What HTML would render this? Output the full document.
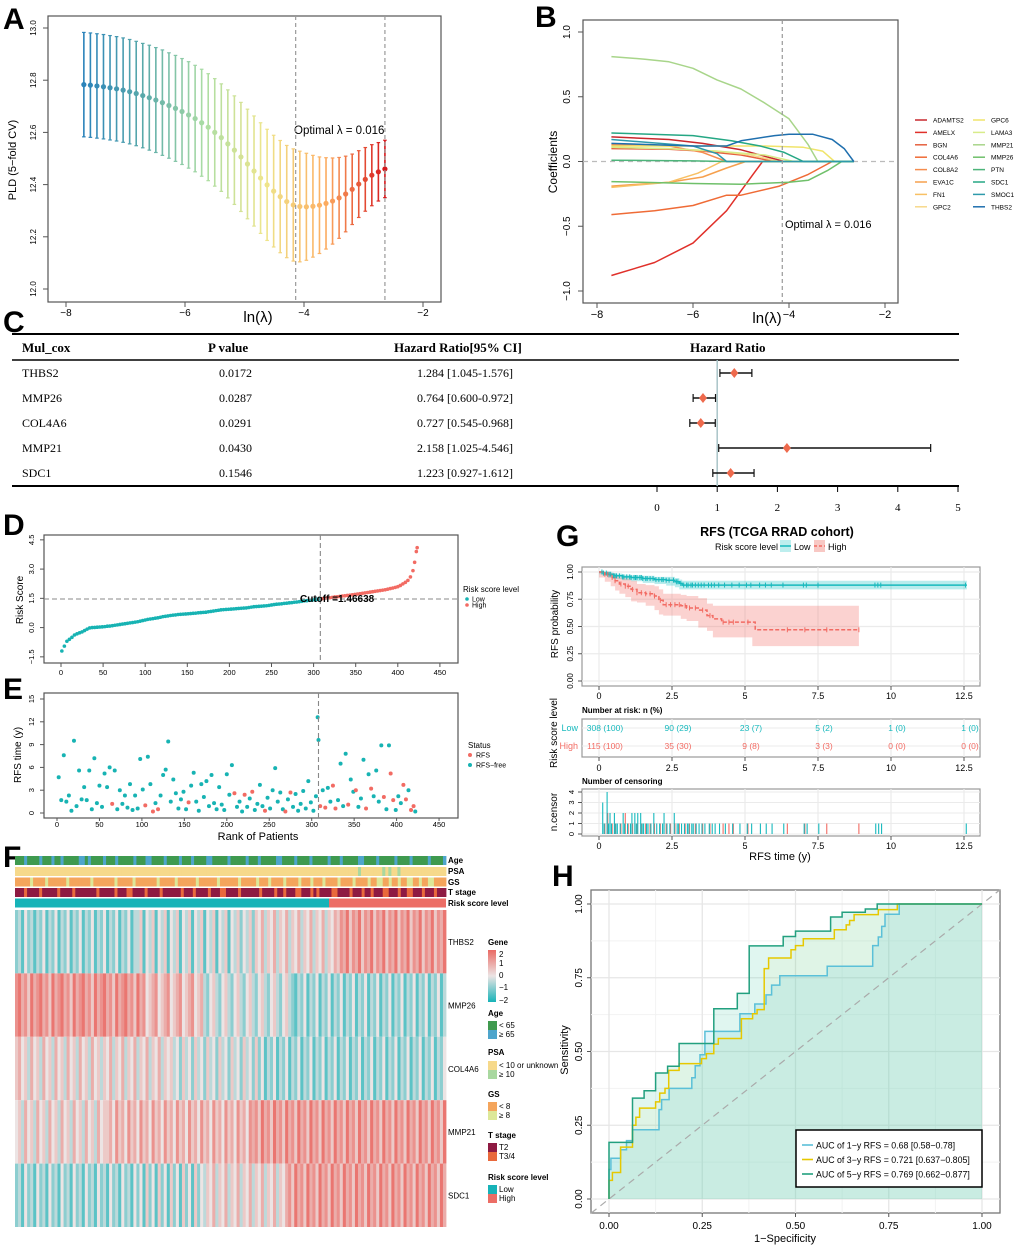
<!DOCTYPE html>
<html><head><meta charset="utf-8"><style>
html,body{margin:0;padding:0;background:#fff;}
svg{display:block;font-family:"Liberation Sans",Arial,sans-serif;}
.ser{font-family:"Liberation Serif","Times New Roman",serif;}
</style></head><body>
<svg id="fig" xmlns="http://www.w3.org/2000/svg" width="1020" height="1249" viewBox="0 0 1020 1249">
<rect x="0" y="0" width="1020" height="1249" fill="#fff"/>
<g font-weight="bold" font-size="30" fill="#000">
<text x="3" y="29">A</text>
<text x="535" y="27">B</text>
<text x="3" y="332">C</text>
<text x="3" y="535">D</text>
<text x="3" y="699">E</text>
<text x="3" y="867">F</text>
<text x="556" y="546">G</text>
<text x="552" y="886">H</text>
</g>
<rect x="48" y="16" width="393" height="286" fill="none" stroke="#555" stroke-width="1.2"/>
<text x="16" y="160" font-size="11" text-anchor="middle" transform="rotate(-90 16 160)">PLD (5−fold CV)</text>
<text x="258" y="322" font-size="15" text-anchor="middle">ln(λ)</text>
<text x="294" y="134" font-size="11.5">Optimal λ = 0.016</text>
<rect x="583" y="20" width="315" height="283" fill="none" stroke="#555" stroke-width="1.2"/>
<text x="557" y="162" font-size="12" text-anchor="middle" transform="rotate(-90 557 162)">Coefficients</text>
<text x="767" y="323" font-size="15" text-anchor="middle">ln(λ)</text>
<text x="785" y="228" font-size="11">Optimal λ = 0.016</text>
<g class="ser">
<line x1="12" y1="334" x2="959" y2="334" stroke="#000" stroke-width="2"/>
<line x1="12" y1="360" x2="959" y2="360" stroke="#000" stroke-width="1.5"/>
<line x1="12" y1="486" x2="959" y2="486" stroke="#000" stroke-width="2"/>
<g font-weight="bold" font-size="13">
<text x="22" y="352">Mul_cox</text>
<text x="208" y="352">P  value</text>
<text x="394" y="352">Hazard Ratio[95% CI]</text>
<text x="690" y="352">Hazard Ratio</text>
</g>
</g>
<rect x="44" y="535" width="414" height="128" fill="none" stroke="#555" stroke-width="1.2"/>
<text x="23" y="600" font-size="10" text-anchor="middle" transform="rotate(-90 23 600)">Risk Score</text>
<text x="463" y="592" font-size="8">Risk score level</text>
<circle cx="467" cy="599" r="1.8" fill="#17b3b3"/><text x="472" y="601.5" font-size="7">Low</text>
<circle cx="467" cy="605" r="1.8" fill="#f26b63"/><text x="472" y="607.5" font-size="7">High</text>
<rect x="44" y="693" width="414" height="125" fill="none" stroke="#555" stroke-width="1.2"/>
<text x="21" y="755" font-size="10" text-anchor="middle" transform="rotate(-90 21 755)">RFS time (y)</text>
<text x="258" y="840" font-size="11" text-anchor="middle">Rank of Patients</text>
<text x="468" y="748" font-size="8">Status</text>
<circle cx="470" cy="755" r="2" fill="#f26b63"/><text x="476" y="757.5" font-size="7">RFS</text>
<circle cx="470" cy="765" r="2" fill="#17b3b3"/><text x="476" y="767.5" font-size="7">RFS−free</text>
<g font-size="8" font-weight="bold">
<text x="448" y="863">Age</text><text x="448" y="874">PSA</text><text x="448" y="885">GS</text><text x="448" y="895">T stage</text><text x="448" y="906">Risk score level</text>
</g>
<g font-size="8">
<text x="488" y="945" font-weight="bold">Gene</text>
<text x="488" y="1016" font-weight="bold">Age</text>
<rect x="488" y="1021" width="9" height="9" fill="#3f9a4f"/><text x="499" y="1028">&lt; 65</text>
<rect x="488" y="1030" width="9" height="9" fill="#4ea5cc"/><text x="499" y="1037">≥ 65</text>
<text x="488" y="1055" font-weight="bold">PSA</text>
<rect x="488" y="1061" width="9" height="9" fill="#f6d98b"/><text x="499" y="1068">&lt; 10 or unknown</text>
<rect x="488" y="1070" width="9" height="9" fill="#a9d8a0"/><text x="499" y="1077">≥ 10</text>
<text x="488" y="1097" font-weight="bold">GS</text>
<rect x="488" y="1102" width="9" height="9" fill="#f4a55c"/><text x="499" y="1109">&lt; 8</text>
<rect x="488" y="1111" width="9" height="9" fill="#dde899"/><text x="499" y="1118">≥ 8</text>
<text x="488" y="1138" font-weight="bold">T stage</text>
<rect x="488" y="1143" width="9" height="9" fill="#8e1a42"/><text x="499" y="1150">T2</text>
<rect x="488" y="1152" width="9" height="9" fill="#e9693c"/><text x="499" y="1159">T3/4</text>
<text x="488" y="1180" font-weight="bold">Risk score level</text>
<rect x="488" y="1185" width="9" height="9" fill="#17b3b8"/><text x="499" y="1192">Low</text>
<rect x="488" y="1194" width="9" height="9" fill="#ec6d65"/><text x="499" y="1201">High</text>
</g>
<defs><linearGradient id="geneGrad" x1="0" y1="0" x2="0" y2="1">
<stop offset="0" stop-color="#ea6a64"/><stop offset="0.5" stop-color="#ece4e4"/><stop offset="1" stop-color="#17b3b8"/></linearGradient></defs>
<rect x="488" y="950" width="8" height="52" fill="url(#geneGrad)"/>
<g font-size="8">
<text x="499" y="957">2</text><text x="499" y="966">1</text><text x="499" y="978">0</text><text x="499" y="990">−1</text><text x="499" y="1003">−2</text>
</g>
<text x="777" y="536" font-size="12.5" font-weight="bold" text-anchor="middle">RFS (TCGA RRAD cohort)</text>
<text x="778" y="550" font-size="9" text-anchor="end">Risk score level</text>
<rect x="780" y="540" width="11" height="12" fill="#bdeeee"/><line x1="780" y1="546" x2="791" y2="546" stroke="#17b9bd" stroke-width="1.5"/>
<text x="794" y="550" font-size="9">Low</text>
<rect x="814" y="540" width="11" height="12" fill="#f8c8c4"/><line x1="814" y1="546" x2="825" y2="546" stroke="#f26b63" stroke-width="1.5" stroke-dasharray="3,2"/>
<text x="828" y="550" font-size="9">High</text>
<text x="558" y="624" font-size="10" text-anchor="middle" transform="rotate(-90 558 624)">RFS probability</text>
<text x="607" y="662" font-size="11">p &lt; 0.001</text>
<text x="582" y="713" font-size="8" font-weight="bold">Number at risk: n (%)</text>
<text x="557" y="733" font-size="10" text-anchor="middle" transform="rotate(-90 557 733)">Risk score level</text>
<text x="578" y="731" font-size="9" fill="#17b9bd" text-anchor="end">Low</text>
<text x="578" y="749" font-size="9" fill="#f26b63" text-anchor="end">High</text>
<text x="582" y="784" font-size="8" font-weight="bold">Number of censoring</text>
<text x="557" y="812" font-size="10" text-anchor="middle" transform="rotate(-90 557 812)">n.censor</text>
<text x="780" y="860" font-size="11" text-anchor="middle">RFS time (y)</text>
<text x="568" y="1050" font-size="11" text-anchor="middle" transform="rotate(-90 568 1050)">Sensitivity</text>
<text x="785" y="1242" font-size="11" text-anchor="middle">1−Specificity</text>
<g id="dyn"></g>
</svg>
<script>
const NS="http://www.w3.org/2000/svg";
const root=document.getElementById('dyn');
function mk(tag,attrs,parent){const e=document.createElementNS(NS,tag);for(const k in attrs)e.setAttribute(k,attrs[k]);(parent||root).appendChild(e);return e;}

/* ---------- Panel A data ---------- */
const aLnLambda=[-7.70,-7.59,-7.48,-7.37,-7.26,-7.15,-7.04,-6.93,-6.82,-6.71,-6.60,-6.49,-6.38,-6.27,-6.16,-6.05,-5.94,-5.83,-5.72,-5.61,-5.50,-5.39,-5.28,-5.17,-5.06,-4.95,-4.84,-4.73,-4.62,-4.51,-4.40,-4.29,-4.18,-4.07,-3.96,-3.85,-3.74,-3.63,-3.52,-3.41,-3.30,-3.19,-3.08,-2.97,-2.86,-2.75,-2.64];
const aMean=[12.783,12.781,12.778,12.775,12.771,12.767,12.762,12.756,12.749,12.741,12.733,12.724,12.714,12.703,12.692,12.680,12.667,12.653,12.637,12.620,12.600,12.580,12.556,12.532,12.506,12.479,12.452,12.425,12.399,12.375,12.354,12.335,12.322,12.316,12.315,12.317,12.321,12.328,12.337,12.349,12.364,12.382,12.402,12.420,12.436,12.449,12.460];
const aSE=[0.200,0.200,0.200,0.200,0.200,0.200,0.200,0.200,0.200,0.200,0.201,0.201,0.202,0.202,0.203,0.203,0.204,0.204,0.205,0.205,0.206,0.206,0.207,0.208,0.209,0.210,0.211,0.212,0.213,0.214,0.215,0.215,0.215,0.212,0.205,0.195,0.185,0.175,0.165,0.155,0.145,0.135,0.128,0.122,0.117,0.112,0.110];
const aXTicks=[-8,-6,-4,-2];
const aYTicks=[12.0,12.2,12.4,12.6,12.8,13.0];
const aOptimalLn=-4.14, aOneSeLn=-2.64;
function ax(v){return 66+(v+8)*59.5;}
function ay(v){return 289-(v-12)*261;}
const spectral=[[43,131,186],[90,170,170],[171,221,164],[238,230,140],[253,174,97],[215,25,28]];
function specColor(t){const n=spectral.length-1;const i=Math.min(n-1,Math.floor(t*n));const f=t*n-i;const a=spectral[i],b=spectral[i+1];return 'rgb('+a.map((c,k)=>Math.round(c+(b[k]-c)*f)).join(',')+')';}
{
const g=mk('g',{});


aLnLambda.forEach((l,i)=>{
 const col=specColor(i/(aLnLambda.length-1));
 const x=ax(l);
 const ln=mk('line',{x1:x,x2:x,y1:ay(aMean[i]-aSE[i]),y2:ay(aMean[i]+aSE[i]),stroke:col,'stroke-width':1.6},g);
 
 
 mk('line',{x1:x-1.8,x2:x+1.8,y1:ay(aMean[i]+aSE[i]),y2:ay(aMean[i]+aSE[i]),stroke:col,'stroke-width':1.2},g);
 mk('line',{x1:x-1.8,x2:x+1.8,y1:ay(aMean[i]-aSE[i]),y2:ay(aMean[i]-aSE[i]),stroke:col,'stroke-width':1.2},g);
 const c=mk('circle',{cx:x,cy:ay(aMean[i]),r:2.6,fill:col},g);
 
 
});
[aOptimalLn,aOneSeLn].forEach(v=>{
 const d=mk('line',{x1:ax(v),x2:ax(v),y1:16,y2:302,stroke:'#999','stroke-width':1.2,'stroke-dasharray':'4,3'});
 
 
});
aXTicks.forEach(v=>{
 mk('line',{x1:ax(v),x2:ax(v),y1:302,y2:307,stroke:'#555'});
 const t=mk('text',{x:ax(v),y:316,'font-size':10,'text-anchor':'middle'});
 t.textContent=String(v).replace('-','−');
 
 
});
aYTicks.forEach(v=>{
 mk('line',{x1:43,x2:48,y1:ay(v),y2:ay(v),stroke:'#555'});
 const t=mk('text',{x:36,y:ay(v),'font-size':8,'text-anchor':'middle',transform:'rotate(-90 36 '+ay(v)+')'});
 t.textContent=v.toFixed(1);
 
 
});
}

/* ---------- Panel B data ---------- */
const bGenes=['ADAMTS2','AMELX','BGN','COL4A6','COL8A2','EVA1C','FN1','GPC2','GPC6','LAMA3','MMP21','MMP26','PTN','SDC1','SMOC1','THBS2'];
const bColors=['#c8282d','#e0302a','#e5603f','#ef6b36','#f58d4e','#f6a04d','#f8c064','#f7d98a','#f0e46a','#d8ec8a','#a8d58a','#6fc06a','#4db47a','#25a784','#2e9aab','#1f6fae'];
const bLn={
ADAMTS2:[-7.7,-6.5,-5.8,-5.0,-4.4,-4.1,-2.65],AMELX:[-7.7,-6.8,-6.0,-5.3,-4.75,-4.55,-2.65],BGN:[-7.7,-6.5,-5.8,-5.0,-4.3,-2.65],
COL4A6:[-7.7,-6.8,-6.0,-5.3,-5.0,-4.2,-3.6,-3.1,-2.65],COL8A2:[-7.7,-6.5,-5.8,-5.3,-2.65],EVA1C:[-7.7,-6.5,-5.8,-5.3,-4.9,-2.65],
FN1:[-7.7,-6.5,-5.9,-5.4,-2.65],GPC2:[-7.7,-6.5,-5.5,-4.8,-4.2,-2.65],GPC6:[-7.7,-6.0,-4.5,-3.7,-3.3,-3.05,-2.65],
LAMA3:[-7.7,-6.5,-5.5,-4.5,-3.9,-2.65],MMP21:[-7.7,-7.0,-6.5,-6.0,-5.5,-5.0,-4.5,-4.0,-3.6,-3.4,-2.65],
MMP26:[-7.7,-6.0,-5.0,-4.0,-3.6,-3.2,-2.9,-2.65],PTN:[-7.7,-6.0,-5.3,-2.65],SDC1:[-7.7,-6.0,-5.2,-4.6,-4.1,-3.7,-2.65],
SMOC1:[-7.7,-6.0,-5.5,-5.3,-2.65],THBS2:[-7.7,-6.0,-5.3,-5.0,-4.3,-4.0,-3.5,-3.1,-2.85,-2.65]};
const bCoef={
ADAMTS2:[0.19,0.17,0.14,0.09,0.03,0,0],AMELX:[-0.88,-0.78,-0.63,-0.38,-0.10,0,0],BGN:[0.10,0.095,0.08,0.05,0,0],
COL4A6:[-0.41,-0.38,-0.34,-0.26,-0.26,-0.19,-0.10,0,0],COL8A2:[0.13,0.12,0.07,0,0],EVA1C:[-0.19,-0.16,-0.12,-0.05,0,0],
FN1:[-0.20,-0.16,-0.09,0,0],GPC2:[0.11,0.10,0.08,0.05,0,0],GPC6:[0.12,0.12,0.12,0.11,0.08,0,0],
LAMA3:[0.11,0.10,0.08,0.05,0,0],MMP21:[0.81,0.79,0.77,0.72,0.63,0.56,0.45,0.33,0.13,0,0],
MMP26:[-0.155,-0.17,-0.175,-0.16,-0.145,-0.07,0,0],PTN:[0.01,0.005,0,0],SDC1:[0.22,0.20,0.16,0.12,0.07,0,0],
SMOC1:[0.17,0.12,0.06,0,0],THBS2:[0.14,0.12,0.12,0.16,0.20,0.21,0.21,0.17,0.10,0]};
const bXTicks=[-8,-6,-4,-2];
const bYTicks=[-1.0,-0.5,0.0,0.5,1.0];
function bx(v){return 597+(v+8)*48;}
function by(v){return 161.5-v*129.5;}
{
const z=mk('line',{x1:583,x2:898,y1:by(0),y2:by(0),stroke:'#bbb','stroke-width':1.2,'stroke-dasharray':'5,4'});


bGenes.forEach((gname,i)=>{
 const pts=bLn[gname].map((l,k)=>bx(l).toFixed(1)+','+by(bCoef[gname][k]).toFixed(1)).join(' ');
 const p=mk('polyline',{points:pts,fill:'none',stroke:bColors[i],'stroke-width':1.5,'stroke-linejoin':'round'});
 
 
 const col=i<8?0:1,row=i%8;
 const lx=915+col*58, ly=120+row*12.4;
 mk('line',{x1:lx,x2:lx+12,y1:ly,y2:ly,stroke:bColors[i],'stroke-width':1.5});
 const t=mk('text',{x:lx+18,y:ly+2.5,'font-size':6.5});
 t.textContent=gname;
 
 
});
const v=mk('line',{x1:bx(aOptimalLn),x2:bx(aOptimalLn),y1:20,y2:303,stroke:'#999','stroke-width':1.2,'stroke-dasharray':'4,3'});


bXTicks.forEach(val=>{
 mk('line',{x1:bx(val),x2:bx(val),y1:303,y2:308,stroke:'#555'});
 const t=mk('text',{x:bx(val),y:318,'font-size':11,'text-anchor':'middle'});
 t.textContent=String(val).replace('-','−');
 
 
});
bYTicks.forEach(val=>{
 mk('line',{x1:578,x2:583,y1:by(val),y2:by(val),stroke:'#555'});
 const t=mk('text',{x:570,y:by(val),'font-size':10,'text-anchor':'middle',transform:'rotate(-90 570 '+by(val)+')'});
 t.textContent=val.toFixed(1).replace('-','−');
 
 
});
}

/* ---------- Panel C data ---------- */
const cGenes=['THBS2','MMP26','COL4A6','MMP21','SDC1'];
const cPvals=['0.0172','0.0287','0.0291','0.0430','0.1546'];
const cHR=[1.284,0.764,0.727,2.158,1.223];
const cLow=[1.045,0.600,0.545,1.025,0.927];
const cHigh=[1.576,0.972,0.968,4.546,1.612];
const cTicks=[0,1,2,3,4,5];
function cx(v){return 657+v*60.2;}
{
const rowY=[373,398,423,448,473];
const ref=mk('line',{x1:cx(1),x2:cx(1),y1:360,y2:486,stroke:'#a9c4c8','stroke-width':1.5});


cGenes.forEach((gname,i)=>{
 const y=rowY[i];
 const t1=mk('text',{x:22,y:y+4,'font-size':12,class:'ser'});t1.textContent=gname;
 
 
 const t2=mk('text',{x:252,y:y+4,'font-size':12,class:'ser','text-anchor':'end'});t2.textContent=cPvals[i];
 
 
 const t3=mk('text',{x:513,y:y+4,'font-size':12,class:'ser','text-anchor':'end'});
 t3.textContent=cHR[i].toFixed(3)+' ['+cLow[i].toFixed(3)+'-'+cHigh[i].toFixed(3)+']';
 
 
 const ci=mk('line',{x1:cx(cLow[i]),x2:cx(cHigh[i]),y1:y,y2:y,stroke:'#111','stroke-width':1.5});
 
 
 mk('line',{x1:cx(cLow[i]),x2:cx(cLow[i]),y1:y-4,y2:y+4,stroke:'#111','stroke-width':1.2});
 mk('line',{x1:cx(cHigh[i]),x2:cx(cHigh[i]),y1:y-4,y2:y+4,stroke:'#111','stroke-width':1.2});
 const px=cx(cHR[i]);
 const d=mk('polygon',{points:(px-4)+','+y+' '+px+','+(y-5)+' '+(px+4)+','+y+' '+px+','+(y+5),fill:'#ee6a4d'});
 
 
});
cTicks.forEach(v=>{
 mk('line',{x1:cx(v),x2:cx(v),y1:486,y2:492,stroke:'#000'});
 const t=mk('text',{x:cx(v),y:511,'font-size':11,'text-anchor':'middle',class:'ser'});t.textContent=v;
 
 
});
}

/* ---------- Panel D data ---------- */
const dRank=[1,4,7,10,13,16,19,22,25,28,31,34,37,40,43,46,49,52,55,58,61,64,67,70,73,76,79,82,85,88,91,94,97,100,103,106,109,112,115,118,121,124,127,130,133,136,139,142,145,148,151,154,157,160,163,166,169,172,175,178,181,184,187,190,193,196,199,202,205,208,211,214,217,220,223,226,229,232,235,238,241,244,247,250,253,256,259,262,265,268,271,274,277,280,283,286,289,292,295,298,301,304,307,310,313,316,319,322,325,328,331,334,337,340,343,346,349,352,355,358,361,364,367,370,373,376,379,382,385,388,391,394,397,400,403,406,409,412,415,418,420,422,423];
const dRisk=[-1.20,-0.95,-0.70,-0.60,-0.50,-0.38,-0.32,-0.27,-0.22,-0.15,-0.08,-0.02,0.00,0.01,0.02,0.03,0.04,0.05,0.07,0.08,0.10,0.12,0.14,0.16,0.18,0.20,0.22,0.24,0.26,0.28,0.30,0.33,0.36,0.39,0.42,0.44,0.46,0.48,0.50,0.53,0.56,0.58,0.60,0.62,0.64,0.65,0.67,0.68,0.69,0.70,0.71,0.72,0.73,0.74,0.76,0.77,0.78,0.79,0.81,0.83,0.85,0.87,0.89,0.91,0.92,0.93,0.94,0.95,0.96,0.97,0.98,0.99,1.00,1.01,1.03,1.05,1.07,1.08,1.09,1.10,1.11,1.12,1.14,1.16,1.18,1.20,1.21,1.22,1.24,1.25,1.27,1.28,1.30,1.31,1.33,1.35,1.37,1.38,1.40,1.41,1.43,1.45,1.46,1.48,1.50,1.52,1.53,1.55,1.57,1.58,1.60,1.62,1.63,1.65,1.66,1.68,1.70,1.72,1.74,1.76,1.78,1.80,1.82,1.84,1.86,1.88,1.90,1.92,1.94,1.97,2.00,2.03,2.06,2.10,2.16,2.24,2.32,2.42,2.60,2.92,3.35,3.90,4.10];
const dCutoff=1.46638, dCutRank=308;
const dXTicks=[0,50,100,150,200,250,300,350,400,450];
const dYTicks=[-1.5,0.0,1.5,3.0,4.5];
function dx(r){return 61+r*0.842;}
function dy(v){return 599-(v-dCutoff)*19.5;}
{
dRank.forEach((r,i)=>{
 const c=mk('circle',{cx:dx(r),cy:dy(dRisk[i]),r:1.8,fill:r<=dCutRank?'#17b3b3':'#f26b63'});
 
 
});
const h=mk('line',{x1:44,x2:458,y1:dy(dCutoff),y2:dy(dCutoff),stroke:'#888','stroke-width':1.1,'stroke-dasharray':'5,3'});


const v=mk('line',{x1:dx(dCutRank),x2:dx(dCutRank),y1:535,y2:663,stroke:'#888','stroke-width':1.1,'stroke-dasharray':'5,3'});


const ct=mk('text',{x:300,y:dy(dCutoff)+3,'font-size':10,'font-weight':'bold'});ct.textContent='Cutoff =1.46638';


dXTicks.forEach(v=>{
 mk('line',{x1:dx(v),x2:dx(v),y1:663,y2:667,stroke:'#555'});
 const t=mk('text',{x:dx(v),y:675,'font-size':7.5,'text-anchor':'middle'});t.textContent=v;
 
 
});
dYTicks.forEach(v=>{
 mk('line',{x1:40,x2:44,y1:dy(v),y2:dy(v),stroke:'#555'});
 const t=mk('text',{x:34,y:dy(v),'font-size':7.5,'text-anchor':'middle',transform:'rotate(-90 34 '+dy(v)+')'});t.textContent=v.toFixed(1).replace('-','−');
 
 
});
}

/* ---------- Panel E data ---------- */
const eRank=[2,5,8,11,14,17,20,23,26,29,32,35,38,41,44,47,50,53,56,59,62,65,68,71,74,77,80,83,86,89,92,95,98,101,104,107,110,113,116,119,122,125,128,131,134,137,140,143,146,149,152,155,158,161,164,167,170,173,176,179,182,185,188,191,194,197,200,203,206,209,212,215,218,221,224,227,230,233,236,239,242,245,248,251,254,257,260,263,266,269,272,275,278,281,284,287,290,293,296,299,302,305,307,308,310,313,316,319,322,325,328,331,334,337,340,343,346,349,352,355,358,361,364,367,370,373,376,379,382,385,388,391,393,396,399,402,405,408,411,414,417,420,422];
const eTime=[4.7,1.7,7.6,1.5,2.3,0.3,9.5,0.9,5.6,1.8,3.4,1.7,5.6,0.5,7.2,1.3,3.6,0.8,5.2,3.4,6.0,1.2,5.6,0.5,3.0,1.2,2.3,0.7,3.8,0.4,2.3,0.6,7.1,3.1,1.0,7.4,3.8,0.2,1.3,0.5,2.3,5.0,5.7,9.4,1.5,4.4,2.6,0.6,1.8,2.8,0.5,1.4,3.6,5.3,1.5,0.3,3.8,2.1,4.2,0.9,5.0,1.3,0.5,3.4,1.1,0.4,5.1,2.4,6.3,2.6,0.8,1.5,0.2,2.4,0.8,1.9,2.8,0.4,1.2,3.7,0.9,0.3,2.0,0.6,3.0,5.9,1.5,2.7,0.5,0.2,1.8,2.7,0.8,2.5,0.3,1.2,2.9,0.6,4.2,1.4,0.3,2.2,12.6,9.6,0.9,3.0,0.7,3.3,1.5,3.6,0.6,1.7,6.5,0.9,7.8,1.1,4.4,2.8,3.0,0.8,1.9,7.0,0.6,5.1,3.2,2.2,5.6,1.5,8.9,2.1,0.5,8.9,5.2,1.7,0.4,2.2,1.3,3.7,1.8,3.0,0.4,0.9,0.2];
const eStatus=[0,0,0,0,0,0,0,0,0,0,0,0,0,0,0,0,0,0,0,0,0,1,0,0,0,0,0,0,0,0,0,0,0,0,1,0,0,1,0,1,0,0,0,0,0,0,0,0,0,0,0,1,0,0,0,0,0,0,0,0,0,0,0,0,0,0,0,0,0,1,0,0,0,1,0,0,1,0,0,0,0,1,0,0,0,0,0,0,0,1,0,1,0,0,0,0,0,0,0,0,0,0,0,0,1,0,1,0,0,1,1,0,0,0,0,1,0,0,1,0,0,0,1,0,1,0,0,0,0,1,0,0,1,1,0,0,0,1,1,0,1,1,0];
const eXTicks=[0,50,100,150,200,250,300,350,400,450];
const eYTicks=[0,3,6,9,12,15];
function ex(r){return 57+r*0.849;}
function ey(t){return 813-t*7.6;}
{
eRank.forEach((r,i)=>{
 const c=mk('circle',{cx:ex(r),cy:ey(eTime[i]),r:2,fill:eStatus[i]?'#f26b63':'#17b3b3'});
 
 
});
const v=mk('line',{x1:ex(dCutRank),x2:ex(dCutRank),y1:693,y2:818,stroke:'#888','stroke-width':1.1,'stroke-dasharray':'5,3'});


eXTicks.forEach(v=>{
 mk('line',{x1:ex(v),x2:ex(v),y1:818,y2:821,stroke:'#555'});
 const t=mk('text',{x:ex(v),y:827,'font-size':7.5,'text-anchor':'middle'});t.textContent=v;
 
 
});
eYTicks.forEach(v=>{
 mk('line',{x1:40,x2:44,y1:ey(v),y2:ey(v),stroke:'#555'});
 const t=mk('text',{x:34,y:ey(v),'font-size':7.5,'text-anchor':'middle',transform:'rotate(-90 34 '+ey(v)+')'});t.textContent=v;
 
 
});
}

/* ---------- Panel F data ---------- */
const fGenes=['THBS2','MMP26','COL4A6','MMP21','SDC1'];
const fExpr=[
"2314231324132413241324132413241324132413351435143514351435143514351435143524352546354635463546354635463546576857685768576857685768576857685768",
"7867586786758678675867867586786758678675867456745674567456745632453245324532453245324532453213241324132413241324132413241324132413241324132413",
"5645364536453645364536453645354635463546354635463545342534253425342534253425342524132413241324132413241324132413241324132413241324132413241324",
"4536453645364536453645364536455647564756475647564756475647564756475647564756476758675867586758675867586758675867586758675867586758675867586758",
"2314231423142314231423142314231423142314241524152415241524152435463546354635463546354635467586758675867586758675867586758675867586758675867586"];
const fAge="aaabaaaabaaabaabaaaaabbabaaaabaaabaaaaabaaabbaaaabaaaabaaabaaaabbaaaaabaaaaabaaabaaaaabbaaaabaaaabaaaaabaaabaaaaabbaaaabaaaaabaaaabaaaaabaaaab";
const fPSA="yyyyyyyyyyyyyyyyyyyyyyyyyyyyyyyyyyyyyyyyyyyyyyyyyyyyyyyyyyyyyyyyyyyyyyyyyyyyyyyyyyyyyyyyyyyyyyyyyyyyyyyyyyyyyyyyygyyyyyyygygyygyyyyyyyyyyyyyyy";
const fGS="oooooloooolooooooloooooooloooooooloooooloooooooloooooloooooolooooooloooooolooooolooolooooloooolooolooolooooloooolooooloolloolooloollooloolloooo";
const fT="dddrddddrdddddrddddrdddddddrdddddrdddrrddddrddddrddddddrdddrddddrdddrrddddrddddddrddddrddrdddrrdddrdrddddrrddddrdddrddrdddrrdddrddrrdddrdddrddd";
const fRiskLow=102, fRiskCols=140;
const annoColors={a:'#3f9a4f',b:'#4ea5cc',y:'#f6d98b',g:'#a9d8a0',o:'#f4a55c',l:'#dde899',d:'#8e1a42',r:'#e9693c'};
function exprColor(v){const t=(v-4)/4*0.9;const mid=[236,228,228],hi=[234,106,100],lo=[23,179,184];const e=t>=0?hi:lo;const f=Math.abs(t);return 'rgb('+mid.map((c,k)=>Math.round(c+(e[k]-c)*f)).join(',')+')';}
{
const X0=15,W=431;
const annos=[[fAge,856],[fPSA,867],[fGS,877.5],[fT,888]];
annos.forEach(([s,y])=>{
 const w=W/s.length;
 const g=mk('g',{});
 
 
 for(let i=0;i<s.length;i++){mk('rect',{x:X0+i*w,y:y,width:w+0.4,height:9,fill:annoColors[s[i]]},g);}
});
const rl=mk('rect',{x:X0,y:898.5,width:W*fRiskLow/fRiskCols,height:9,fill:'#17b3b8'});


const rh=mk('rect',{x:X0+W*fRiskLow/fRiskCols,y:898.5,width:W-W*fRiskLow/fRiskCols,height:9,fill:'#ec6d65'});


fGenes.forEach((gname,r)=>{
 const s=fExpr[r];const w=W/s.length;const y=910+r*63.4;
 const g=mk('g',{});
 
 
 for(let i=0;i<s.length;i++){mk('rect',{x:X0+i*w,y:y,width:w+0.4,height:63.4,fill:exprColor(+s[i])},g);}
 const t=mk('text',{x:448,y:y+35,'font-size':8});t.textContent=gname;
 
 
});
}

/* ---------- Panel G data ---------- */
const gLowT=[0,0.15,0.3,0.5,0.8,1.1,1.5,1.9,2.3,2.6,2.75,2.85,12.6];
const gLowS=[1,0.99,0.98,0.965,0.955,0.95,0.94,0.93,0.925,0.91,0.895,0.88,0.88];
const gLowLo=[1,0.98,0.965,0.945,0.935,0.925,0.915,0.9,0.89,0.875,0.86,0.84,0.84];
const gLowHi=[1,1,0.995,0.985,0.975,0.97,0.965,0.955,0.955,0.945,0.93,0.92,0.92];
const gHighT=[0,0.2,0.4,0.55,0.7,0.9,1.1,1.3,1.6,1.9,2.05,2.2,2.8,3.0,3.4,3.7,3.9,4.2,5.25,5.35,8.9];
const gHighS=[1,0.98,0.95,0.92,0.89,0.87,0.84,0.81,0.80,0.78,0.74,0.70,0.69,0.67,0.65,0.60,0.57,0.54,0.54,0.47,0.47];
const gHighLo=[1,0.95,0.91,0.87,0.83,0.80,0.77,0.73,0.72,0.69,0.65,0.61,0.60,0.57,0.55,0.49,0.46,0.40,0.40,0.32,0.32];
const gHighHi=[1,1,0.99,0.97,0.95,0.94,0.92,0.89,0.88,0.87,0.84,0.80,0.79,0.78,0.76,0.71,0.69,0.69,0.69,0.69,0.69];
const gRiskTimes=[0,2.5,5,7.5,10,12.5];
const gRiskLow=['308 (100)','90 (29)','23 (7)','5 (2)','1 (0)','1 (0)'];
const gRiskHigh=['115 (100)','35 (30)','9 (8)','3 (3)','0 (0)','0 (0)'];
const gLowCensT=[0.1,0.15,0.25,0.3,0.35,0.4,0.5,0.55,0.6,0.7,0.8,0.85,0.95,1.05,1.1,1.2,1.25,1.3,1.4,1.45,1.5,1.6,1.65,1.75,1.85,1.95,2.05,2.15,2.2,2.3,2.4,2.55,2.65,2.7,2.8,2.9,3.0,3.05,3.15,3.2,3.3,3.4,3.5,3.6,3.75,3.85,3.95,4.1,4.3,4.55,4.8,5.05,5.2,5.5,5.7,5.9,6.3,7.0,7.1,7.5,9.45,9.55,9.65,12.55];
const gLowCensN=[3,1,4,1,2,1,2,1,1,1,2,1,1,1,2,2,1,2,2,1,1,1,1,1,2,1,1,1,2,1,1,2,1,1,1,1,1,1,1,1,1,1,1,1,1,1,1,1,1,1,1,1,1,1,1,1,1,1,1,1,1,1,1,1];
const gHighCensT=[0.2,0.3,0.45,0.55,0.75,0.9,1.0,1.15,1.3,1.45,1.6,1.75,1.9,2.1,2.3,2.45,2.6,2.75,2.95,3.1,3.3,3.55,3.8,4.25,4.45,4.6,5.1,6.45,7.05,7.8,8.9];
const gHighCensN=[1,2,1,1,1,2,1,1,1,1,1,1,1,1,1,1,1,1,1,1,1,1,1,1,1,1,1,1,1,1,1];
const gXTicks=[0,2.5,5,7.5,10,12.5];
const gYTicks=[0,0.25,0.5,0.75,1.0];
const gCensTicks=[0,1,2,3,4];
function gx(t){return 599+t*29.2;}
function gy(s){return 681-s*109;}
function gcy(n){return 834-n*10.5;}
function stepPath(T,S){let d='M'+gx(T[0])+','+gy(S[0]);for(let i=1;i<T.length;i++){d+='H'+gx(T[i]).toFixed(1)+'V'+gy(S[i]).toFixed(1);}return d;}
function stepArea(T,L,H){let d='M'+gx(T[0])+','+gy(H[0]);for(let i=1;i<T.length;i++){d+='H'+gx(T[i]).toFixed(1)+'V'+gy(H[i]).toFixed(1);}for(let i=T.length-1;i>=1;i--){d+='V'+gy(L[i]).toFixed(1)+'H'+gx(T[i-1]).toFixed(1);}d+='V'+gy(L[0])+'Z';return d;}
function survAt(T,S,t){let s=S[0];for(let i=0;i<T.length;i++){if(T[i]<=t)s=S[i];}return s;}
{
const fr=mk('rect',{x:582,y:567,width:398,height:119,fill:'#fff',stroke:'#999','stroke-width':1.2});


gXTicks.forEach(v=>{mk('line',{x1:gx(v),x2:gx(v),y1:567,y2:686,stroke:'#ebebeb','stroke-width':1.2});});
gYTicks.forEach(v=>{mk('line',{x1:582,x2:980,y1:gy(v),y2:gy(v),stroke:'#ebebeb','stroke-width':1.2});});
const a1=mk('path',{d:stepArea(gLowT,gLowLo,gLowHi),fill:'#17c0c4','fill-opacity':0.3});


const a2=mk('path',{d:stepArea(gHighT,gHighLo,gHighHi),fill:'#f26b63','fill-opacity':0.3});


const l1=mk('path',{d:stepPath(gLowT,gLowS),fill:'none',stroke:'#17b9bd','stroke-width':1.5});


const l2=mk('path',{d:stepPath(gHighT,gHighS),fill:'none',stroke:'#f26b63','stroke-width':1.5,'stroke-dasharray':'4,2'});


gLowCensT.forEach(t=>{const y=gy(survAt(gLowT,gLowS,t));const m=mk('line',{x1:gx(t),x2:gx(t),y1:y-2.5,y2:y+2.5,stroke:'#17b9bd','stroke-width':1});
 
 });
gHighCensT.forEach(t=>{const y=gy(survAt(gHighT,gHighS,t));const m=mk('line',{x1:gx(t),x2:gx(t),y1:y-2.5,y2:y+2.5,stroke:'#f26b63','stroke-width':1});
 
 });
gXTicks.forEach(v=>{
 mk('line',{x1:gx(v),x2:gx(v),y1:686,y2:690,stroke:'#555'});
 const t=mk('text',{x:gx(v),y:699,'font-size':9,'text-anchor':'middle'});t.textContent=v;
 
 
});
gYTicks.forEach(v=>{
 mk('line',{x1:578,x2:582,y1:gy(v),y2:gy(v),stroke:'#555'});
 const t=mk('text',{x:573,y:gy(v),'font-size':8,'text-anchor':'middle',transform:'rotate(-90 573 '+gy(v)+')'});t.textContent=v.toFixed(2);
 
 
});
const rt=mk('rect',{x:582,y:719,width:398,height:38,fill:'#fff',stroke:'#999','stroke-width':1.2});


gXTicks.forEach(v=>{mk('line',{x1:gx(v),x2:gx(v),y1:719,y2:757,stroke:'#ebebeb','stroke-width':1.2});});
mk('line',{x1:582,x2:980,y1:728,y2:728,stroke:'#ebebeb'});mk('line',{x1:582,x2:980,y1:746,y2:746,stroke:'#ebebeb'});
gRiskTimes.forEach((tm,i)=>{
 const a=mk('text',{x:gx(tm)+6,y:731,'font-size':8.5,fill:'#17b9bd','text-anchor':'middle'});a.textContent=gRiskLow[i];
 
 
 const b=mk('text',{x:gx(tm)+6,y:749,'font-size':8.5,fill:'#f26b63','text-anchor':'middle'});b.textContent=gRiskHigh[i];
 
 
});
gXTicks.forEach(v=>{
 mk('line',{x1:gx(v),x2:gx(v),y1:757,y2:761,stroke:'#555'});
 const t=mk('text',{x:gx(v),y:771,'font-size':9,'text-anchor':'middle'});t.textContent=v;
 
 
});
const cf=mk('rect',{x:582,y:789,width:398,height:47,fill:'#fff',stroke:'#999','stroke-width':1.2});


gXTicks.forEach(v=>{mk('line',{x1:gx(v),x2:gx(v),y1:789,y2:836,stroke:'#ebebeb','stroke-width':1.2});});
gCensTicks.forEach(v=>{mk('line',{x1:582,x2:980,y1:gcy(v),y2:gcy(v),stroke:'#ebebeb'});
 mk('line',{x1:578,x2:582,y1:gcy(v),y2:gcy(v),stroke:'#555'});
 const t=mk('text',{x:574,y:gcy(v),'font-size':7.5,'text-anchor':'middle',transform:'rotate(-90 574 '+gcy(v)+')'});t.textContent=v;
 
 });
gHighCensT.forEach((t,i)=>{const b=mk('line',{x1:gx(t),x2:gx(t),y1:gcy(0),y2:gcy(gHighCensN[i]),stroke:'#f26b63','stroke-width':1.1});
 
 });
gLowCensT.forEach((t,i)=>{const b=mk('line',{x1:gx(t)+0.8,x2:gx(t)+0.8,y1:gcy(0),y2:gcy(gLowCensN[i]),stroke:'#17b9bd','stroke-width':1.1});
 
 });
gXTicks.forEach(v=>{
 mk('line',{x1:gx(v),x2:gx(v),y1:836,y2:840,stroke:'#555'});
 const t=mk('text',{x:gx(v),y:849,'font-size':9,'text-anchor':'middle'});t.textContent=v;
 
 
});
}

/* ---------- Panel H data ---------- */
const h1Fpr=[0,0,0.005,0.031,0.047,0.063,0.134,0.141,0.161,0.222,0.231,0.244,0.257,0.351,0.391,0.421,0.436,0.458,0.585,0.707,0.722,0.731,0.740,0.778,1];
const h1Tpr=[0,0.10,0.138,0.167,0.198,0.235,0.303,0.337,0.375,0.411,0.452,0.489,0.568,0.628,0.661,0.692,0.725,0.757,0.789,0.859,0.888,0.924,0.965,1,1];
const h3Fpr=[0,0,0.009,0.031,0.063,0.072,0.082,0.125,0.136,0.150,0.160,0.188,0.248,0.261,0.281,0.293,0.355,0.385,0.397,0.416,0.428,0.488,0.500,0.521,0.604,0.636,0.645,0.657,0.722,0.773,1];
const h3Tpr=[0,0.063,0.09,0.176,0.25,0.277,0.308,0.329,0.359,0.375,0.436,0.459,0.476,0.493,0.525,0.544,0.611,0.628,0.642,0.781,0.817,0.845,0.859,0.882,0.913,0.929,0.944,0.964,0.981,1,1];
const h5Fpr=[0,0,0.063,0.094,0.125,0.157,0.188,0.281,0.344,0.376,0.467,0.500,0.594,0.625,0.687,0.719,1];
const h5Tpr=[0,0.192,0.342,0.367,0.427,0.45,0.527,0.645,0.697,0.858,0.89,0.908,0.956,0.972,0.983,1,1];
const hLabels=['AUC of 1−y RFS = 0.68 [0.58−0.78]','AUC of 3−y RFS = 0.721 [0.637−0.805]','AUC of 5−y RFS = 0.769 [0.662−0.877]'];
const hColors=['#5bc0d8','#e6c800','#22a07f'];
const hFillColors=['#7fd4ec','#f5e36a','#3cc6a0'];
const hFillOpacity=[0.22,0.08,0.16];
const hTicks=[0,0.25,0.5,0.75,1.0];
function hx(f){return 609+f*373;}
function hy(s){return 1199-s*295;}
function rocPath(F,T){let d='M'+hx(F[0])+','+hy(T[0]);for(let i=1;i<F.length;i++){d+='H'+hx(F[i]).toFixed(1)+'V'+hy(T[i]).toFixed(1);}return d;}
{
const fr=mk('rect',{x:591,y:890,width:409,height:323,fill:'#fff',stroke:'#777','stroke-width':1.3});


[0.125,0.375,0.625,0.875].forEach(v=>{mk('line',{x1:hx(v),x2:hx(v),y1:890,y2:1213,stroke:'#f2f2f2'});mk('line',{x1:591,x2:1000,y1:hy(v),y2:hy(v),stroke:'#f2f2f2'});});
hTicks.forEach(v=>{mk('line',{x1:hx(v),x2:hx(v),y1:890,y2:1213,stroke:'#e6e6e6','stroke-width':1.3});mk('line',{x1:591,x2:1000,y1:hy(v),y2:hy(v),stroke:'#e6e6e6','stroke-width':1.3});});
const sets=[[h1Fpr,h1Tpr],[h3Fpr,h3Tpr],[h5Fpr,h5Tpr]];
sets.forEach(([F,T],i)=>{
 const a=mk('path',{d:rocPath(F,T)+'V'+hy(0)+'H'+hx(0)+'Z',fill:hFillColors[i],'fill-opacity':hFillOpacity[i]});
 
 
});
const dg=mk('line',{x1:591,x2:1000,y1:hy((591-609)/373),y2:hy((1000-609)/373),stroke:'#aaa','stroke-width':1.2,'stroke-dasharray':'7,5'});


sets.forEach(([F,T],i)=>{
 const p=mk('path',{d:rocPath(F,T),fill:'none',stroke:hColors[i],'stroke-width':1.5});
 
 
});
const lb=mk('rect',{x:796,y:1130,width:186,height:57,fill:'#fff',stroke:'#000','stroke-width':1.5});


hLabels.forEach((s,i)=>{
 const y=1145+i*14.5;
 mk('line',{x1:802,x2:813,y1:y,y2:y,stroke:hColors[i],'stroke-width':1.6});
 const t=mk('text',{x:816,y:y+3.5,'font-size':8.8});t.textContent=s;
 
 
});
hTicks.forEach(v=>{
 mk('line',{x1:hx(v),x2:hx(v),y1:1213,y2:1217,stroke:'#555'});
 const t=mk('text',{x:hx(v),y:1229,'font-size':10,'text-anchor':'middle'});t.textContent=v.toFixed(2);
 
 
 mk('line',{x1:587,x2:591,y1:hy(v),y2:hy(v),stroke:'#555'});
 const u=mk('text',{x:582,y:hy(v),'font-size':10,'text-anchor':'middle',transform:'rotate(-90 582 '+hy(v)+')'});u.textContent=v.toFixed(2);
 
 
});
}
</script>
</body></html>
